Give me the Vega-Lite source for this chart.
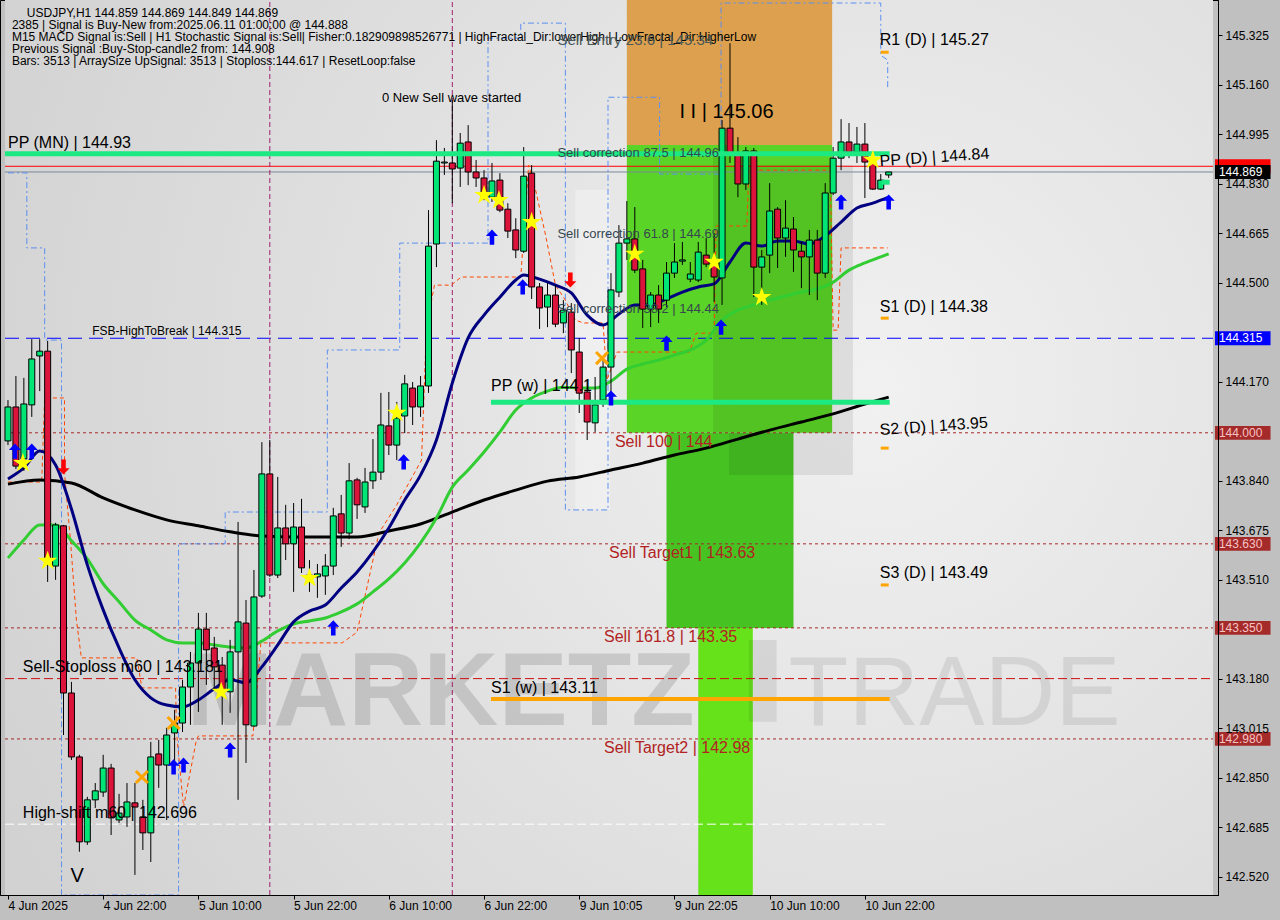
{
"$schema":"https://vega.github.io/schema/vega-lite/v6.json",
"width":1218,"height":895,
"autosize":{"type":"none"},
"padding":{"left":0,"top":0,"right":62,"bottom":25},
"background":"#c0c0c0",
"config":{"view":{"stroke":"#000000","strokeWidth":1},"font":"Liberation Sans","axis":{"grid":false}},
"datasets":{
"candles":[
{"i":0,"o":143.973,"h":144.109,"l":143.959,"c":144.086},
{"i":1,"o":144.086,"h":144.189,"l":143.879,"c":143.889},
{"i":2,"o":143.913,"h":144.183,"l":143.873,"c":144.096},
{"i":3,"o":144.093,"h":144.312,"l":144.053,"c":144.246},
{"i":4,"o":144.256,"h":144.312,"l":144.139,"c":144.272},
{"i":5,"o":144.272,"h":144.306,"l":143.503,"c":143.570},
{"i":6,"o":143.556,"h":143.700,"l":143.510,"c":143.693},
{"i":7,"o":143.690,"h":143.693,"l":142.993,"c":143.133},
{"i":8,"o":143.133,"h":143.170,"l":142.910,"c":142.920},
{"i":9,"o":142.920,"h":142.927,"l":142.604,"c":142.637},
{"i":10,"o":142.637,"h":142.787,"l":142.627,"c":142.777},
{"i":11,"o":142.777,"h":142.833,"l":142.750,"c":142.807},
{"i":12,"o":142.803,"h":142.927,"l":142.787,"c":142.883},
{"i":13,"o":142.883,"h":142.897,"l":142.660,"c":142.717},
{"i":14,"o":142.710,"h":142.797,"l":142.700,"c":142.733},
{"i":15,"o":142.720,"h":142.833,"l":142.687,"c":142.770},
{"i":16,"o":142.767,"h":142.833,"l":142.527,"c":142.753},
{"i":17,"o":142.720,"h":142.777,"l":142.610,"c":142.667},
{"i":18,"o":142.667,"h":142.970,"l":142.570,"c":142.920},
{"i":19,"o":142.930,"h":142.977,"l":142.817,"c":142.893},
{"i":20,"o":142.893,"h":143.017,"l":142.710,"c":142.993},
{"i":21,"o":143.000,"h":143.077,"l":142.893,"c":143.033},
{"i":22,"o":143.033,"h":143.177,"l":143.003,"c":143.153},
{"i":23,"o":143.153,"h":143.270,"l":143.027,"c":143.233},
{"i":24,"o":143.233,"h":143.400,"l":143.070,"c":143.346},
{"i":25,"o":143.346,"h":143.400,"l":143.160,"c":143.277},
{"i":26,"o":143.283,"h":143.320,"l":143.143,"c":143.220},
{"i":27,"o":143.226,"h":143.253,"l":143.027,"c":143.137},
{"i":28,"o":143.137,"h":143.310,"l":143.067,"c":143.270},
{"i":29,"o":143.270,"h":143.703,"l":142.777,"c":143.370},
{"i":30,"o":143.366,"h":143.443,"l":142.900,"c":143.027},
{"i":31,"o":143.023,"h":143.543,"l":143.020,"c":143.453},
{"i":32,"o":143.456,"h":143.969,"l":143.450,"c":143.863},
{"i":33,"o":143.863,"h":143.976,"l":143.520,"c":143.526},
{"i":34,"o":143.526,"h":143.853,"l":143.516,"c":143.683},
{"i":35,"o":143.683,"h":143.760,"l":143.576,"c":143.630},
{"i":36,"o":143.630,"h":143.766,"l":143.470,"c":143.686},
{"i":37,"o":143.686,"h":143.780,"l":143.533,"c":143.550},
{"i":38,"o":143.520,"h":143.576,"l":143.470,"c":143.526},
{"i":39,"o":143.520,"h":143.563,"l":143.450,"c":143.530},
{"i":40,"o":143.523,"h":143.596,"l":143.460,"c":143.556},
{"i":41,"o":143.556,"h":143.750,"l":143.526,"c":143.723},
{"i":42,"o":143.730,"h":143.793,"l":143.620,"c":143.666},
{"i":43,"o":143.666,"h":143.899,"l":143.646,"c":143.840},
{"i":44,"o":143.843,"h":143.850,"l":143.713,"c":143.760},
{"i":45,"o":143.753,"h":143.883,"l":143.733,"c":143.836},
{"i":46,"o":143.840,"h":143.979,"l":143.813,"c":143.869},
{"i":47,"o":143.869,"h":144.133,"l":143.843,"c":144.026},
{"i":48,"o":144.023,"h":144.136,"l":143.926,"c":143.959},
{"i":49,"o":143.959,"h":144.103,"l":143.909,"c":144.049},
{"i":50,"o":144.056,"h":144.193,"l":143.999,"c":144.163},
{"i":51,"o":144.149,"h":144.169,"l":144.026,"c":144.086},
{"i":52,"o":144.086,"h":144.189,"l":144.053,"c":144.156},
{"i":53,"o":144.156,"h":144.742,"l":144.133,"c":144.622},
{"i":54,"o":144.629,"h":144.975,"l":144.552,"c":144.905},
{"i":55,"o":144.899,"h":144.949,"l":144.859,"c":144.902},
{"i":56,"o":144.899,"h":145.109,"l":144.765,"c":144.879},
{"i":57,"o":144.882,"h":144.999,"l":144.819,"c":144.965},
{"i":58,"o":144.969,"h":145.025,"l":144.825,"c":144.869},
{"i":59,"o":144.869,"h":144.909,"l":144.819,"c":144.849},
{"i":60,"o":144.849,"h":144.875,"l":144.775,"c":144.785},
{"i":61,"o":144.785,"h":144.899,"l":144.769,"c":144.839},
{"i":62,"o":144.842,"h":144.865,"l":144.735,"c":144.742},
{"i":63,"o":144.745,"h":144.765,"l":144.649,"c":144.672},
{"i":64,"o":144.676,"h":144.715,"l":144.582,"c":144.609},
{"i":65,"o":144.605,"h":144.952,"l":144.599,"c":144.855},
{"i":66,"o":144.865,"h":144.892,"l":144.446,"c":144.486},
{"i":67,"o":144.486,"h":144.499,"l":144.346,"c":144.416},
{"i":68,"o":144.419,"h":144.499,"l":144.352,"c":144.459},
{"i":69,"o":144.459,"h":144.492,"l":144.352,"c":144.362},
{"i":70,"o":144.366,"h":144.442,"l":144.332,"c":144.409},
{"i":71,"o":144.402,"h":144.432,"l":144.199,"c":144.276},
{"i":72,"o":144.269,"h":144.316,"l":144.066,"c":144.132},
{"i":73,"o":144.136,"h":144.176,"l":143.976,"c":144.036},
{"i":74,"o":144.033,"h":144.186,"l":144.003,"c":144.093},
{"i":75,"o":144.109,"h":144.252,"l":144.086,"c":144.219},
{"i":76,"o":144.219,"h":144.532,"l":144.119,"c":144.476},
{"i":77,"o":144.469,"h":144.692,"l":144.452,"c":144.632},
{"i":78,"o":144.632,"h":144.772,"l":144.576,"c":144.646},
{"i":79,"o":144.646,"h":144.752,"l":144.532,"c":144.542},
{"i":80,"o":144.546,"h":144.576,"l":144.349,"c":144.412},
{"i":81,"o":144.412,"h":144.469,"l":144.352,"c":144.459},
{"i":82,"o":144.459,"h":144.492,"l":144.366,"c":144.412},
{"i":83,"o":144.442,"h":144.569,"l":144.419,"c":144.532},
{"i":84,"o":144.532,"h":144.632,"l":144.516,"c":144.569},
{"i":85,"o":144.572,"h":144.636,"l":144.559,"c":144.576},
{"i":86,"o":144.512,"h":144.569,"l":144.502,"c":144.529},
{"i":87,"o":144.509,"h":144.636,"l":144.502,"c":144.602},
{"i":88,"o":144.592,"h":144.649,"l":144.552,"c":144.562},
{"i":89,"o":144.576,"h":144.665,"l":144.436,"c":144.519},
{"i":90,"o":144.516,"h":145.042,"l":144.426,"c":145.015},
{"i":91,"o":145.015,"h":145.298,"l":144.899,"c":144.932},
{"i":92,"o":144.932,"h":144.985,"l":144.785,"c":144.829},
{"i":93,"o":144.829,"h":144.952,"l":144.809,"c":144.939},
{"i":94,"o":144.939,"h":144.949,"l":144.452,"c":144.552},
{"i":95,"o":144.552,"h":144.609,"l":144.426,"c":144.586},
{"i":96,"o":144.592,"h":144.832,"l":144.532,"c":144.739},
{"i":97,"o":144.745,"h":144.752,"l":144.549,"c":144.649},
{"i":98,"o":144.649,"h":144.775,"l":144.586,"c":144.682},
{"i":99,"o":144.679,"h":144.719,"l":144.536,"c":144.609},
{"i":100,"o":144.605,"h":144.636,"l":144.482,"c":144.586},
{"i":101,"o":144.586,"h":144.676,"l":144.459,"c":144.642},
{"i":102,"o":144.642,"h":144.676,"l":144.442,"c":144.532},
{"i":103,"o":144.532,"h":144.832,"l":144.516,"c":144.799},
{"i":104,"o":144.799,"h":144.952,"l":144.792,"c":144.915},
{"i":105,"o":144.915,"h":145.045,"l":144.875,"c":144.969},
{"i":106,"o":144.969,"h":145.032,"l":144.915,"c":144.935},
{"i":107,"o":144.935,"h":145.019,"l":144.899,"c":144.962},
{"i":108,"o":144.962,"h":145.032,"l":144.782,"c":144.902},
{"i":109,"o":144.899,"h":144.932,"l":144.809,"c":144.812},
{"i":110,"o":144.812,"h":144.862,"l":144.809,"c":144.842},
{"i":111,"o":144.859,"h":144.869,"l":144.849,"c":144.869}
],
"navy":[
{"i":0,"v":143.846},{"i":2,"v":143.883},{"i":4,"v":143.939},{"i":6,"v":143.893},{"i":8,"v":143.746},{"i":10,"v":143.560},{"i":12,"v":143.410},{"i":14,"v":143.283},{"i":16,"v":143.177},{"i":18,"v":143.117},{"i":20,"v":143.093},{"i":22,"v":143.087},{"i":24,"v":143.110},{"i":26,"v":143.147},{"i":28,"v":143.177},{"i":30,"v":143.167},{"i":32,"v":143.220},{"i":34,"v":143.293},{"i":36,"v":143.370},{"i":38,"v":143.406},{"i":40,"v":143.426},{"i":42,"v":143.483},{"i":44,"v":143.536},{"i":46,"v":143.603},{"i":48,"v":143.683},{"i":50,"v":143.776},{"i":52,"v":143.859},{"i":54,"v":143.976},{"i":56,"v":144.166},{"i":58,"v":144.316},{"i":60,"v":144.392},{"i":62,"v":144.452},{"i":64,"v":144.509},{"i":65,"v":144.526},{"i":67,"v":144.512},{"i":69,"v":144.492},{"i":71,"v":144.466},{"i":73,"v":144.392},{"i":75,"v":144.359},{"i":77,"v":144.396},{"i":79,"v":144.426},{"i":81,"v":144.426},{"i":83,"v":144.446},{"i":85,"v":144.469},{"i":87,"v":144.486},{"i":89,"v":144.496},{"i":91,"v":144.569},{"i":93,"v":144.632},{"i":95,"v":144.622},{"i":97,"v":144.639},{"i":99,"v":144.639},{"i":101,"v":144.629},{"i":103,"v":144.656},{"i":105,"v":144.702},{"i":107,"v":144.749},{"i":109,"v":144.765},{"i":111,"v":144.785}
],
"greenma":[
{"i":0,"v":143.583},{"i":2,"v":143.643},{"i":4,"v":143.693},{"i":6,"v":143.693},{"i":8,"v":143.640},{"i":10,"v":143.580},{"i":12,"v":143.497},{"i":14,"v":143.437},{"i":16,"v":143.376},{"i":18,"v":143.343},{"i":20,"v":143.310},{"i":22,"v":143.300},{"i":24,"v":143.300},{"i":26,"v":143.293},{"i":28,"v":143.286},{"i":30,"v":143.283},{"i":32,"v":143.306},{"i":34,"v":143.340},{"i":36,"v":143.363},{"i":38,"v":143.373},{"i":40,"v":143.383},{"i":42,"v":143.403},{"i":44,"v":143.430},{"i":46,"v":143.470},{"i":48,"v":143.513},{"i":50,"v":143.566},{"i":52,"v":143.633},{"i":54,"v":143.716},{"i":56,"v":143.819},{"i":58,"v":143.876},{"i":60,"v":143.936},{"i":62,"v":144.003},{"i":64,"v":144.076},{"i":66,"v":144.116},{"i":68,"v":144.139},{"i":70,"v":144.152},{"i":72,"v":144.149},{"i":74,"v":144.149},{"i":76,"v":144.172},{"i":78,"v":144.212},{"i":80,"v":144.229},{"i":82,"v":144.242},{"i":84,"v":144.259},{"i":86,"v":144.276},{"i":88,"v":144.309},{"i":90,"v":144.376},{"i":92,"v":144.409},{"i":94,"v":144.426},{"i":96,"v":144.442},{"i":98,"v":144.456},{"i":100,"v":144.469},{"i":102,"v":144.479},{"i":104,"v":144.502},{"i":106,"v":144.542},{"i":108,"v":144.566},{"i":110,"v":144.586},{"i":111,"v":144.596}
],
"blackma":[
{"i":0,"v":143.829},{"i":4,"v":143.843},{"i":8,"v":143.833},{"i":12,"v":143.783},{"i":16,"v":143.743},{"i":20,"v":143.710},{"i":24,"v":143.690},{"i":28,"v":143.670},{"i":32,"v":143.656},{"i":36,"v":143.653},{"i":40,"v":143.653},{"i":44,"v":143.653},{"i":48,"v":143.673},{"i":52,"v":143.696},{"i":56,"v":143.736},{"i":60,"v":143.776},{"i":64,"v":143.809},{"i":68,"v":143.839},{"i":72,"v":143.853},{"i":76,"v":143.876},{"i":80,"v":143.899},{"i":84,"v":143.926},{"i":88,"v":143.949},{"i":92,"v":143.979},{"i":96,"v":144.009},{"i":100,"v":144.036},{"i":104,"v":144.063},{"i":108,"v":144.096},{"i":111,"v":144.119}
],
"bluestep":[
{"k":1,"i":0,"p":144.866},{"k":2,"i":2.375,"p":144.866},{"k":3,"i":2.375,"p":144.616},{"k":4,"i":4.625,"p":144.616},{"k":5,"i":4.625,"p":144.309},{"k":6,"i":6.75,"p":144.309},{"k":7,"i":6.75,"p":142.46},{"k":8,"i":21.5,"p":142.46},{"k":9,"i":21.5,"p":143.63},{"k":10,"i":27.375,"p":143.63},{"k":11,"i":27.375,"p":143.736},{"k":12,"i":40.25,"p":143.736},{"k":13,"i":40.25,"p":144.276},{"k":14,"i":49.375,"p":144.276},{"k":15,"i":49.375,"p":144.632},{"k":16,"i":60.5,"p":144.632},{"k":17,"i":60.5,"p":145.315},{"k":18,"i":64.625,"p":145.315},{"k":19,"i":64.625,"p":145.365},{"k":20,"i":70.25,"p":145.365},{"k":21,"i":70.25,"p":143.743},{"k":22,"i":75.625,"p":143.743},{"k":23,"i":75.625,"p":145.118},{"k":24,"i":82.125,"p":145.118},{"k":25,"i":82.125,"p":144.862},{"k":26,"i":89.875,"p":144.862},{"k":27,"i":89.875,"p":145.432},{"k":28,"i":110,"p":145.432},{"k":29,"i":110,"p":145.258},{"k":30,"i":110.875,"p":145.242},{"k":31,"i":110.875,"p":145.142}
],
"orangestep":[
{"k":1,"i":0,"p":143.836},{"k":2,"i":4.25,"p":143.836},{"k":3,"i":4.625,"p":144.116},{"k":4,"i":7.125,"p":144.116},{"k":5,"i":7.125,"p":143.866},{"k":6,"i":7.875,"p":143.643},{"k":7,"i":8.625,"p":143.376},{"k":8,"i":9.25,"p":143.25},{"k":9,"i":16.25,"p":143.25},{"k":10,"i":16.875,"p":143.15},{"k":11,"i":21.125,"p":143.15},{"k":12,"i":21.25,"p":143.0},{"k":13,"i":22.125,"p":142.753},{"k":14,"i":23.75,"p":142.977},{"k":15,"i":24,"p":142.99},{"k":16,"i":30.875,"p":142.99},{"k":17,"i":31.875,"p":143.3},{"k":18,"i":42.125,"p":143.3},{"k":19,"i":44,"p":143.336},{"k":20,"i":46.75,"p":143.666},{"k":21,"i":49,"p":143.76},{"k":22,"i":52.125,"p":143.909},{"k":23,"i":52.75,"p":144.352},{"k":24,"i":53.75,"p":144.492},{"k":25,"i":55.875,"p":144.492},{"k":26,"i":57.125,"p":144.519},{"k":27,"i":64.625,"p":144.519},{"k":28,"i":65.625,"p":144.892},{"k":29,"i":66.5,"p":144.809},{"k":30,"i":67.75,"p":144.659},{"k":31,"i":69,"p":144.492},{"k":32,"i":70.25,"p":144.442},{"k":33,"i":71.5,"p":144.376},{"k":34,"i":72.5,"p":144.366},{"k":35,"i":75,"p":144.366},{"k":36,"i":75.5,"p":144.176},{"k":37,"i":76.75,"p":144.269},{"k":38,"i":85.875,"p":144.269},{"k":39,"i":86.75,"p":144.332},{"k":40,"i":89,"p":144.332},{"k":41,"i":89.25,"p":144.689},{"k":42,"i":93.125,"p":144.689},{"k":43,"i":93.375,"p":144.875},{"k":44,"i":103.625,"p":144.875},{"k":45,"i":104,"p":144.342},{"k":46,"i":104.625,"p":144.342},{"k":47,"i":105,"p":144.616},{"k":48,"i":110.875,"p":144.616}
]
},
"layer":[
{"data":{"values":[{"a":-0.375,"b":151.875,"p1":142.46,"p2":145.442}]},
 "mark":{"type":"rect","fill":{"gradient":"radial","x1":0.72,"y1":0.45,"r1":0,"x2":0.72,"y2":0.45,"r2":0.8,"stops":[{"offset":0,"color":"#f1f1f1"},{"offset":1,"color":"#d2d2d2"}]}},
 "encoding":{"x":{"field":"a","type":"quantitative","scale":{"domain":[-0.375,151.875],"nice":false,"zero":false}},"x2":{"field":"b"},"y":{"field":"p1","type":"quantitative","scale":{"domain":[142.46,145.442],"nice":false,"zero":false}},"y2":{"field":"p2"}}},
{"data":{"values":[{"a":78,"b":103.875,"p1":144.959,"p2":145.442}]},
 "mark":{"type":"rect","fill":"#dda04e"},
 "encoding":{"x":{"field":"a","type":"quantitative","scale":{"domain":[-0.375,151.875],"nice":false,"zero":false}},"x2":{"field":"b"},"y":{"field":"p1","type":"quantitative","scale":{"domain":[142.46,145.442],"nice":false,"zero":false}},"y2":{"field":"p2"}}},
{"data":{"values":[{"a":78,"b":103.875,"p1":144.0,"p2":144.959}]},
 "mark":{"type":"rect","fill":"#5ad426"},
 "encoding":{"x":{"field":"a","type":"quantitative","scale":{"domain":[-0.375,151.875],"nice":false,"zero":false}},"x2":{"field":"b"},"y":{"field":"p1","type":"quantitative","scale":{"domain":[142.46,145.442],"nice":false,"zero":false}},"y2":{"field":"p2"}}},
{"data":{"values":[{"a":83,"b":99,"p1":143.35,"p2":144.0}]},
 "mark":{"type":"rect","fill":"#46c222"},
 "encoding":{"x":{"field":"a","type":"quantitative","scale":{"domain":[-0.375,151.875],"nice":false,"zero":false}},"x2":{"field":"b"},"y":{"field":"p1","type":"quantitative","scale":{"domain":[142.46,145.442],"nice":false,"zero":false}},"y2":{"field":"p2"}}},
{"data":{"values":[{"a":87,"b":93.875,"p1":142.46,"p2":143.35}]},
 "mark":{"type":"rect","fill":"#66e21a"},
 "encoding":{"x":{"field":"a","type":"quantitative","scale":{"domain":[-0.375,151.875],"nice":false,"zero":false}},"x2":{"field":"b"},"y":{"field":"p1","type":"quantitative","scale":{"domain":[142.46,145.442],"nice":false,"zero":false}},"y2":{"field":"p2"}}},
{"data":{"values":[{"a":90.875,"b":106.5,"p1":143.859,"p2":144.892},{"a":88.875,"b":90.875,"p1":144.0,"p2":144.93},{"a":93.375,"b":96.875,"p1":143.037,"p2":143.31}]},
 "mark":{"type":"rect","fill":"#000000","opacity":0.08},
 "encoding":{"x":{"field":"a","type":"quantitative","scale":{"domain":[-0.375,151.875],"nice":false,"zero":false}},"x2":{"field":"b"},"y":{"field":"p1","type":"quantitative","scale":{"domain":[142.46,145.442],"nice":false,"zero":false}},"y2":{"field":"p2"}}},
{"data":{"values":[{"a":71.5,"b":75.875,"p1":143.743,"p2":144.809}]},
 "mark":{"type":"rect","fill":"#ffffff","opacity":0.3},
 "encoding":{"x":{"field":"a","type":"quantitative","scale":{"domain":[-0.375,151.875],"nice":false,"zero":false}},"x2":{"field":"b"},"y":{"field":"p1","type":"quantitative","scale":{"domain":[142.46,145.442],"nice":false,"zero":false}},"y2":{"field":"p2"}}},
{"data":{"values":[{"t":"MARKETZ","i":22.5,"p":143.027}]},
 "mark":{"type":"text","align":"left","baseline":"alphabetic","fontSize":104,"fontWeight":"bold","fill":"#000000","opacity":0.12,"font":"Liberation Sans"},
 "encoding":{"x":{"field":"i","type":"quantitative","scale":{"domain":[-0.375,151.875],"nice":false,"zero":false}},"y":{"field":"p","type":"quantitative","scale":{"domain":[142.46,145.442],"nice":false,"zero":false}},"text":{"field":"t"}}},
{"data":{"values":[{"t":"TRADE","i":98.375,"p":143.027}]},
 "mark":{"type":"text","align":"left","baseline":"alphabetic","fontSize":98,"fontWeight":"normal","fill":"#000000","opacity":0.08,"font":"Liberation Sans"},
 "encoding":{"x":{"field":"i","type":"quantitative","scale":{"domain":[-0.375,151.875],"nice":false,"zero":false}},"y":{"field":"p","type":"quantitative","scale":{"domain":[142.46,145.442],"nice":false,"zero":false}},"text":{"field":"t"}}},
{"data":{"values":[{"a":-0.375,"b":151.875,"p":144.0},{"a":-0.375,"b":151.875,"p":143.63},{"a":-0.375,"b":151.875,"p":143.35},{"a":-0.375,"b":151.875,"p":142.98}]},
 "mark":{"type":"rule","color":"#a52a2a","strokeWidth":1,"strokeDash":[3,3]},
 "encoding":{"x":{"field":"a","type":"quantitative","scale":{"domain":[-0.375,151.875],"nice":false,"zero":false}},"x2":{"field":"b"},"y":{"field":"p","type":"quantitative","scale":{"domain":[142.46,145.442],"nice":false,"zero":false}}}},
{"data":{"values":[{"a":-0.375,"b":151.875,"p":143.181}]},
 "mark":{"type":"rule","color":"#cc1010","strokeWidth":1,"strokeDash":[9,4]},
 "encoding":{"x":{"field":"a","type":"quantitative","scale":{"domain":[-0.375,151.875],"nice":false,"zero":false}},"x2":{"field":"b"},"y":{"field":"p","type":"quantitative","scale":{"domain":[142.46,145.442],"nice":false,"zero":false}}}},
{"data":{"values":[{"a":-0.375,"b":110.625,"p":142.696}]},
 "mark":{"type":"rule","color":"#ffffff","strokeWidth":1,"strokeDash":[9,4]},
 "encoding":{"x":{"field":"a","type":"quantitative","scale":{"domain":[-0.375,151.875],"nice":false,"zero":false}},"x2":{"field":"b"},"y":{"field":"p","type":"quantitative","scale":{"domain":[142.46,145.442],"nice":false,"zero":false}}}},
{"data":{"values":[{"a":-0.375,"b":151.875,"p":144.315}]},
 "mark":{"type":"rule","color":"#0000ff","strokeWidth":1,"strokeDash":[14,7]},
 "encoding":{"x":{"field":"a","type":"quantitative","scale":{"domain":[-0.375,151.875],"nice":false,"zero":false}},"x2":{"field":"b"},"y":{"field":"p","type":"quantitative","scale":{"domain":[142.46,145.442],"nice":false,"zero":false}}}},
{"data":{"values":[{"a":-0.375,"b":151.875,"p":144.888}]},
 "mark":{"type":"rule","color":"#ff0000","strokeWidth":1},
 "encoding":{"x":{"field":"a","type":"quantitative","scale":{"domain":[-0.375,151.875],"nice":false,"zero":false}},"x2":{"field":"b"},"y":{"field":"p","type":"quantitative","scale":{"domain":[142.46,145.442],"nice":false,"zero":false}}}},
{"data":{"values":[{"a":-0.375,"b":151.875,"p":144.869}]},
 "mark":{"type":"rule","color":"#7a8898","strokeWidth":1},
 "encoding":{"x":{"field":"a","type":"quantitative","scale":{"domain":[-0.375,151.875],"nice":false,"zero":false}},"x2":{"field":"b"},"y":{"field":"p","type":"quantitative","scale":{"domain":[142.46,145.442],"nice":false,"zero":false}}}},
{"data":{"values":[{"i":33,"p1":142.46,"p2":145.442},{"i":56,"p1":142.46,"p2":145.442}]},
 "mark":{"type":"rule","color":"#a0206e","strokeWidth":1,"strokeDash":[5,3]},
 "encoding":{"x":{"field":"i","type":"quantitative","scale":{"domain":[-0.375,151.875],"nice":false,"zero":false}},"y":{"field":"p1","type":"quantitative","scale":{"domain":[142.46,145.442],"nice":false,"zero":false}},"y2":{"field":"p2"}}},
{"data":{"name":"bluestep"},
 "mark":{"type":"line","color":"#5b8ff0","strokeWidth":1,"strokeDash":[6,3,2,3]},
 "encoding":{"x":{"field":"i","type":"quantitative","scale":{"domain":[-0.375,151.875],"nice":false,"zero":false}},"y":{"field":"p","type":"quantitative","scale":{"domain":[142.46,145.442],"nice":false,"zero":false}},"order":{"field":"k","type":"quantitative"}}},
{"data":{"name":"orangestep"},
 "mark":{"type":"line","color":"#ff4500","strokeWidth":1,"strokeDash":[4,3]},
 "encoding":{"x":{"field":"i","type":"quantitative","scale":{"domain":[-0.375,151.875],"nice":false,"zero":false}},"y":{"field":"p","type":"quantitative","scale":{"domain":[142.46,145.442],"nice":false,"zero":false}},"order":{"field":"k","type":"quantitative"}}},
{"data":{"name":"blackma"},
 "mark":{"type":"line","color":"#000000","strokeWidth":3,"interpolate":"monotone"},
 "encoding":{"x":{"field":"i","type":"quantitative","scale":{"domain":[-0.375,151.875],"nice":false,"zero":false}},"y":{"field":"v","type":"quantitative","scale":{"domain":[142.46,145.442],"nice":false,"zero":false}}}},
{"data":{"name":"greenma"},
 "mark":{"type":"line","color":"#32cd32","strokeWidth":3,"interpolate":"monotone"},
 "encoding":{"x":{"field":"i","type":"quantitative","scale":{"domain":[-0.375,151.875],"nice":false,"zero":false}},"y":{"field":"v","type":"quantitative","scale":{"domain":[142.46,145.442],"nice":false,"zero":false}}}},
{"data":{"name":"navy"},
 "mark":{"type":"line","color":"#000080","strokeWidth":3,"interpolate":"monotone"},
 "encoding":{"x":{"field":"i","type":"quantitative","scale":{"domain":[-0.375,151.875],"nice":false,"zero":false}},"y":{"field":"v","type":"quantitative","scale":{"domain":[142.46,145.442],"nice":false,"zero":false}}}},
{"data":{"name":"candles"},
 "mark":{"type":"rule","color":"#000000","strokeWidth":1},
 "encoding":{"x":{"field":"i","type":"quantitative","scale":{"domain":[-0.375,151.875],"nice":false,"zero":false},
   "axis":{"title":null,"zindex":1,"values":[0,12,24,36,48,60,72,84,96,108],"labelExpr":"['4 Jun 2025','4 Jun 22:00','5 Jun 10:00','5 Jun 22:00','6 Jun 10:00','6 Jun 22:00','9 Jun 10:05','9 Jun 22:05','10 Jun 10:00','10 Jun 22:00'][round(datum.value/12)]","labelAlign":"left","labelFlush":false,"labelOverlap":false,"tickSize":4,"labelPadding":1,"labelFontSize":12,"labelColor":"#000000","tickColor":"#000000","domainColor":"#000000","labelFont":"Liberation Sans","grid":false}},
  "y":{"field":"l","type":"quantitative","scale":{"domain":[142.46,145.442],"nice":false,"zero":false},
   "axis":{"title":null,"zindex":1,"orient":"right","values":[142.52,142.685,142.85,143.015,143.18,143.51,143.675,143.84,144.17,144.5,144.665,144.83,144.995,145.16,145.325],"format":".3f","tickSize":4,"labelPadding":3,"labelFontSize":12,"labelColor":"#000000","tickColor":"#000000","domainColor":"#000000","labelFont":"Liberation Sans","labelFlush":false,"labelOverlap":false,"grid":false}},
  "y2":{"field":"h"}}},
{"data":{"name":"candles"},
 "mark":{"type":"bar","size":6,"stroke":"#000000","strokeWidth":1},
 "encoding":{"x":{"field":"i","type":"quantitative","scale":{"domain":[-0.375,151.875],"nice":false,"zero":false}},"y":{"field":"o","type":"quantitative","scale":{"domain":[142.46,145.442],"nice":false,"zero":false}},"y2":{"field":"c"},
  "color":{"condition":{"test":"datum.c >= datum.o","value":"#00e676"},"value":"#dc143c"}}},
{"data":{"values":[{"a":-0.375,"b":111.125,"p":144.93},{"a":60.875,"b":111.125,"p":144.102},{"a":110.125,"b":111.125,"p":144.835}]},
 "mark":{"type":"rule","color":"#1de982","strokeWidth":5},
 "encoding":{"x":{"field":"a","type":"quantitative","scale":{"domain":[-0.375,151.875],"nice":false,"zero":false}},"x2":{"field":"b"},"y":{"field":"p","type":"quantitative","scale":{"domain":[142.46,145.442],"nice":false,"zero":false}}}},
{"data":{"values":[{"a":60.875,"b":111.125,"p":143.113}]},
 "mark":{"type":"rule","color":"#ffa500","strokeWidth":4},
 "encoding":{"x":{"field":"a","type":"quantitative","scale":{"domain":[-0.375,151.875],"nice":false,"zero":false}},"x2":{"field":"b"},"y":{"field":"p","type":"quantitative","scale":{"domain":[142.46,145.442],"nice":false,"zero":false}}}},
{"data":{"values":[{"a":110,"b":111,"p":145.268},{"a":110,"b":111,"p":144.382},{"a":110,"b":111,"p":143.949},{"a":110,"b":111,"p":143.493}]},
 "mark":{"type":"rule","color":"#ffa500","strokeWidth":3},
 "encoding":{"x":{"field":"a","type":"quantitative","scale":{"domain":[-0.375,151.875],"nice":false,"zero":false}},"x2":{"field":"b"},"y":{"field":"p","type":"quantitative","scale":{"domain":[142.46,145.442],"nice":false,"zero":false}}}},
{"data":{"values":[{"i":1.875,"p":143.899},{"i":5,"p":143.573},{"i":26.875,"p":143.137},{"i":38,"p":143.516},{"i":49,"p":144.066},{"i":60,"p":144.792},{"i":61.875,"p":144.775},{"i":66,"p":144.702},{"i":79,"p":144.596},{"i":89,"p":144.569},{"i":95,"p":144.452},{"i":109,"p":144.909}]},
 "mark":{"type":"point","shape":"M0,-1L0.224,-0.309L0.951,-0.309L0.363,0.118L0.588,0.809L0,0.382L-0.588,0.809L-0.363,0.118L-0.951,-0.309L-0.224,-0.309Z","filled":true,"fill":"#ffff00","size":420,"opacity":1,"strokeWidth":0},
 "encoding":{"x":{"field":"i","type":"quantitative","scale":{"domain":[-0.375,151.875],"nice":false,"zero":false}},"y":{"field":"p","type":"quantitative","scale":{"domain":[142.46,145.442],"nice":false,"zero":false}}}},
{"data":{"values":[{"i":0.875,"p":143.939},{"i":3,"p":143.939},{"i":20.875,"p":142.887},{"i":22.125,"p":142.893},{"i":28,"p":142.943},{"i":41,"p":143.35},{"i":49.875,"p":143.903},{"i":61,"p":144.652},{"i":64.875,"p":144.486},{"i":76,"p":144.116},{"i":83,"p":144.299},{"i":89.875,"p":144.352},{"i":105,"p":144.769},{"i":111,"p":144.769}]},
 "mark":{"type":"point","shape":"M0,-1L0.8,-0.15L0.3,-0.15L0.3,1L-0.3,1L-0.3,-0.15L-0.8,-0.15Z","filled":true,"fill":"#0000ff","size":230,"opacity":1,"strokeWidth":0},
 "encoding":{"x":{"field":"i","type":"quantitative","scale":{"domain":[-0.375,151.875],"nice":false,"zero":false}},"y":{"field":"p","type":"quantitative","scale":{"domain":[142.46,145.442],"nice":false,"zero":false}}}},
{"data":{"values":[{"i":7,"p":143.886},{"i":70.875,"p":144.509}]},
 "mark":{"type":"point","shape":"M0,1L0.8,0.15L0.3,0.15L0.3,-1L-0.3,-1L-0.3,0.15L-0.8,0.15Z","filled":true,"fill":"#ff0000","size":230,"opacity":1,"strokeWidth":0},
 "encoding":{"x":{"field":"i","type":"quantitative","scale":{"domain":[-0.375,151.875],"nice":false,"zero":false}},"y":{"field":"p","type":"quantitative","scale":{"domain":[142.46,145.442],"nice":false,"zero":false}}}},
{"data":{"values":[{"i":16.875,"p":142.853},{"i":20.875,"p":143.033},{"i":74.875,"p":144.249}]},
 "mark":{"type":"point","shape":"M-1,-0.7L-0.7,-1L0,-0.3L0.7,-1L1,-0.7L0.3,0L1,0.7L0.7,1L0,0.3L-0.7,1L-1,0.7L-0.3,0Z","filled":true,"fill":"#ffa500","size":200,"opacity":1,"strokeWidth":0},
 "encoding":{"x":{"field":"i","type":"quantitative","scale":{"domain":[-0.375,151.875],"nice":false,"zero":false}},"y":{"field":"p","type":"quantitative","scale":{"domain":[142.46,145.442],"nice":false,"zero":false}}}},
{"data":{"values":[{"t":"USDJPY,H1  144.859 144.869 144.849 144.869","i":2.375,"p":145.398},{"t":"2385 | Signal is Buy-New from:2025.06.11 01:00:00 @ 144.888","i":0.5,"p":145.358},{"t":"M15 MACD Signal is:Sell | H1 Stochastic Signal is:Sell| Fisher:0.182909898526771 | HighFractal_Dir:lowerHigh | LowFractal_Dir:HigherLow","i":0.5,"p":145.318},{"t":"Previous Signal :Buy-Stop-candle2 from: 144.908","i":0.5,"p":145.278},{"t":"Bars: 3513 | ArraySize UpSignal: 3513 | Stoploss:144.617 | ResetLoop:false","i":0.5,"p":145.238}]},
 "mark":{"type":"text","align":"left","baseline":"middle","fontSize":12,"fill":"#000000","font":"Liberation Sans"},
 "encoding":{"x":{"field":"i","type":"quantitative","scale":{"domain":[-0.375,151.875],"nice":false,"zero":false}},"y":{"field":"p","type":"quantitative","scale":{"domain":[142.46,145.442],"nice":false,"zero":false}},"text":{"field":"t"}}},
{"data":{"values":[{"t":"Sell Entry 23.6 | 145.34","i":69.25,"p":145.308}]},
 "mark":{"type":"text","align":"left","baseline":"middle","fontSize":15,"fill":"#4a5858","font":"Liberation Sans"},
 "encoding":{"x":{"field":"i","type":"quantitative","scale":{"domain":[-0.375,151.875],"nice":false,"zero":false}},"y":{"field":"p","type":"quantitative","scale":{"domain":[142.46,145.442],"nice":false,"zero":false}},"text":{"field":"t"}}},
{"data":{"values":[{"t":"Sell correction 87.5 | 144.96","i":69.25,"p":144.932},{"t":"Sell correction 61.8 | 144.69","i":69.25,"p":144.662},{"t":"Sell correction 38.2 | 144.44","i":69.25,"p":144.412}]},
 "mark":{"type":"text","align":"left","baseline":"middle","fontSize":13,"fill":"#36474f","font":"Liberation Sans"},
 "encoding":{"x":{"field":"i","type":"quantitative","scale":{"domain":[-0.375,151.875],"nice":false,"zero":false}},"y":{"field":"p","type":"quantitative","scale":{"domain":[142.46,145.442],"nice":false,"zero":false}},"text":{"field":"t"}}},
{"data":{"values":[{"t":"FSB-HighToBreak | 144.315","i":10.625,"p":144.339}]},
 "mark":{"type":"text","align":"left","baseline":"middle","fontSize":12,"fill":"#000000","font":"Liberation Sans"},
 "encoding":{"x":{"field":"i","type":"quantitative","scale":{"domain":[-0.375,151.875],"nice":false,"zero":false}},"y":{"field":"p","type":"quantitative","scale":{"domain":[142.46,145.442],"nice":false,"zero":false}},"text":{"field":"t"}}},
{"data":{"values":[{"t":"0 New Sell wave started","i":47.125,"p":145.115}]},
 "mark":{"type":"text","align":"left","baseline":"middle","fontSize":13,"fill":"#000000","font":"Liberation Sans"},
 "encoding":{"x":{"field":"i","type":"quantitative","scale":{"domain":[-0.375,151.875],"nice":false,"zero":false}},"y":{"field":"p","type":"quantitative","scale":{"domain":[142.46,145.442],"nice":false,"zero":false}},"text":{"field":"t"}}},
{"data":{"values":[{"t":"PP (MN) | 144.93","i":0,"p":144.965},{"t":"PP (w) | 144.1","i":60.875,"p":144.156},{"t":"S1 (w) | 143.11","i":60.875,"p":143.15},{"t":"Sell-Stoploss m60 | 143.181","i":1.875,"p":143.22},{"t":"High-shift m60 | 142.696","i":1.875,"p":142.733},{"t":"R1 (D) | 145.27","i":109.875,"p":145.308},{"t":"S1 (D) | 144.38","i":109.875,"p":144.419},{"t":"S3 (D) | 143.49","i":109.875,"p":143.533}]},
 "mark":{"type":"text","align":"left","baseline":"middle","fontSize":16,"fill":"#000000","font":"Liberation Sans"},
 "encoding":{"x":{"field":"i","type":"quantitative","scale":{"domain":[-0.375,151.875],"nice":false,"zero":false}},"y":{"field":"p","type":"quantitative","scale":{"domain":[142.46,145.442],"nice":false,"zero":false}},"text":{"field":"t"}}},
{"data":{"values":[{"t":"PP (D) | 144.84","i":109.875,"p":144.905},{"t":"S2 (D) | 143.95","i":109.875,"p":144.009}]},
 "mark":{"type":"text","align":"left","baseline":"middle","fontSize":16,"fill":"#000000","font":"Liberation Sans","angle":356},
 "encoding":{"x":{"field":"i","type":"quantitative","scale":{"domain":[-0.375,151.875],"nice":false,"zero":false}},"y":{"field":"p","type":"quantitative","scale":{"domain":[142.46,145.442],"nice":false,"zero":false}},"text":{"field":"t"}}},
{"data":{"values":[{"t":"Sell 100 | 144","i":76.5,"p":143.969},{"t":"Sell Target1 | 143.63","i":75.75,"p":143.6},{"t":"Sell 161.8 | 143.35","i":75.125,"p":143.32},{"t":"Sell Target2 | 142.98","i":75.125,"p":142.95}]},
 "mark":{"type":"text","align":"left","baseline":"middle","fontSize":16,"fill":"#b22222","font":"Liberation Sans"},
 "encoding":{"x":{"field":"i","type":"quantitative","scale":{"domain":[-0.375,151.875],"nice":false,"zero":false}},"y":{"field":"p","type":"quantitative","scale":{"domain":[142.46,145.442],"nice":false,"zero":false}},"text":{"field":"t"}}},
{"data":{"values":[{"t":"I I | 145.06","i":84.625,"p":145.068},{"t":"V","i":7.875,"p":142.523}]},
 "mark":{"type":"text","align":"left","baseline":"middle","fontSize":20,"fill":"#000000","font":"Liberation Sans"},
 "encoding":{"x":{"field":"i","type":"quantitative","scale":{"domain":[-0.375,151.875],"nice":false,"zero":false}},"y":{"field":"p","type":"quantitative","scale":{"domain":[142.46,145.442],"nice":false,"zero":false}},"text":{"field":"t"}}},
{"data":{"values":[{"a":152.125,"b":159.125,"lo":144.865,"hi":144.911}]},
 "mark":{"type":"rect","fill":"#ff0000"},
 "encoding":{"x":{"field":"a","type":"quantitative","scale":{"domain":[-0.375,151.875],"nice":false,"zero":false}},"x2":{"field":"b"},"y":{"field":"lo","type":"quantitative","scale":{"domain":[142.46,145.442],"nice":false,"zero":false}},"y2":{"field":"hi"}}},
{"data":{"values":[{"a":152.125,"b":159.125,"lo":144.846,"hi":144.892}]},
 "mark":{"type":"rect","fill":"#000000"},
 "encoding":{"x":{"field":"a","type":"quantitative","scale":{"domain":[-0.375,151.875],"nice":false,"zero":false}},"x2":{"field":"b"},"y":{"field":"lo","type":"quantitative","scale":{"domain":[142.46,145.442],"nice":false,"zero":false}},"y2":{"field":"hi"}}},
{"data":{"values":[{"a":152.125,"b":159.125,"lo":144.292,"hi":144.338}]},
 "mark":{"type":"rect","fill":"#0000ff"},
 "encoding":{"x":{"field":"a","type":"quantitative","scale":{"domain":[-0.375,151.875],"nice":false,"zero":false}},"x2":{"field":"b"},"y":{"field":"lo","type":"quantitative","scale":{"domain":[142.46,145.442],"nice":false,"zero":false}},"y2":{"field":"hi"}}},
{"data":{"values":[{"a":152.125,"b":159.125,"lo":143.977,"hi":144.023},{"a":152.125,"b":159.125,"lo":143.607,"hi":143.653},{"a":152.125,"b":159.125,"lo":143.327,"hi":143.373},{"a":152.125,"b":159.125,"lo":142.957,"hi":143.003}]},
 "mark":{"type":"rect","fill":"#a52a2a"},
 "encoding":{"x":{"field":"a","type":"quantitative","scale":{"domain":[-0.375,151.875],"nice":false,"zero":false}},"x2":{"field":"b"},"y":{"field":"lo","type":"quantitative","scale":{"domain":[142.46,145.442],"nice":false,"zero":false}},"y2":{"field":"hi"}}},
{"data":{"values":[{"t":"144.869","i":152.625,"p":144.869},{"t":"144.315","i":152.625,"p":144.315}]},
 "mark":{"type":"text","align":"left","baseline":"middle","fontSize":12,"fill":"#ffffff","font":"Liberation Sans"},
 "encoding":{"x":{"field":"i","type":"quantitative","scale":{"domain":[-0.375,151.875],"nice":false,"zero":false}},"y":{"field":"p","type":"quantitative","scale":{"domain":[142.46,145.442],"nice":false,"zero":false}},"text":{"field":"t"}}},
{"data":{"values":[{"t":"144.000","i":152.625,"p":144.0},{"t":"143.630","i":152.625,"p":143.63},{"t":"143.350","i":152.625,"p":143.35},{"t":"142.980","i":152.625,"p":142.98}]},
 "mark":{"type":"text","align":"left","baseline":"middle","fontSize":12,"fill":"#f5c4c4","font":"Liberation Sans"},
 "encoding":{"x":{"field":"i","type":"quantitative","scale":{"domain":[-0.375,151.875],"nice":false,"zero":false}},"y":{"field":"p","type":"quantitative","scale":{"domain":[142.46,145.442],"nice":false,"zero":false}},"text":{"field":"t"}}}
]
}
